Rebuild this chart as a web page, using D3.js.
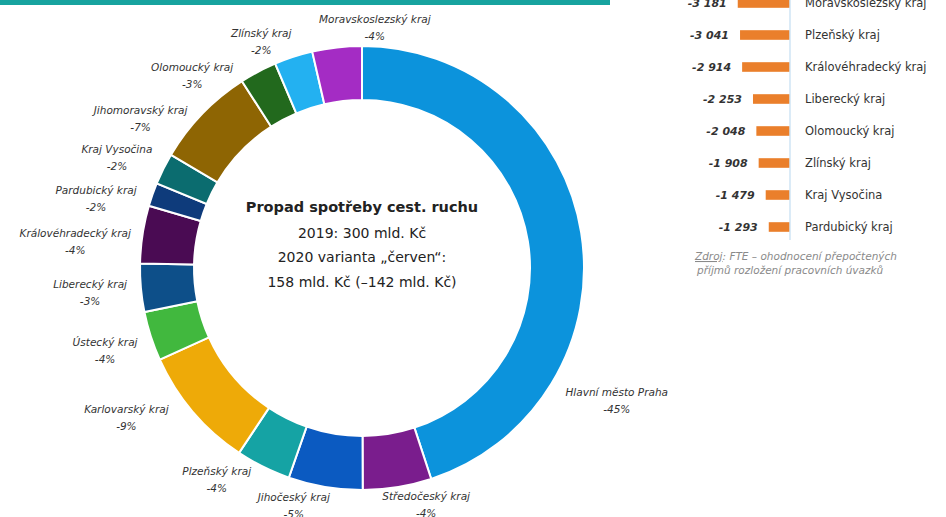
<!DOCTYPE html>
<html>
<head>
<meta charset="utf-8">
<script src="https://cdnjs.cloudflare.com/ajax/libs/d3/7.8.5/d3.min.js"></script>
<style>
  body { margin: 0; background: #fff; }
  text { font-family: "DejaVu Sans", sans-serif; }
</style>
</head>
<body>
<div id="chart"></div>
<script>
// donut data: share of the drop per region (%)
var regions = ["Hlavní město Praha", "Středočeský kraj", "Jihočeský kraj", "Plzeňský kraj",
    "Karlovarský kraj", "Ústecký kraj", "Liberecký kraj", "Královéhradecký kraj",
    "Pardubický kraj", "Kraj Vysočina", "Jihomoravský kraj", "Olomoucký kraj",
    "Zlínský kraj", "Moravskoslezský kraj"];
var shares = [45.0, 5.0, 5.4, 4.0, 8.9, 3.6, 3.5, 4.2, 1.7, 2.3, 7.4, 2.7, 2.8, 3.6];
var shareLabels = ["-45%", "-4%", "-5%", "-4%", "-9%", "-4%", "-3%", "-4%", "-2%", "-2%", "-7%", "-3%", "-2%", "-4%"];
var colors = ["#0c93dc", "#7a1d8d", "#0b5ac1", "#15a3a4", "#eeaa08", "#41b83e", "#0d4f89",
    "#4a0b53", "#0e3b7b", "#0b6c6f", "#8e6503", "#22691d", "#23b1f1", "#a42cc4"];

// bar panel on the right (partially visible)
var barNames = ["Moravskoslezský kraj", "Plzeňský kraj", "Královéhradecký kraj", "Liberecký kraj",
    "Olomoucký kraj", "Zlínský kraj", "Kraj Vysočina", "Pardubický kraj"];
var barValues = [-3181, -3041, -2914, -2253, -2048, -1908, -1479, -1293];

// label placement: [angle shift from slice middle (deg), radius]
var labelPos = [[36.5, 287], [-6, 245], [6.5, 247], [8, 257], [8, 279], [0, 270], [0, 273],
    [-3.5, 288], [-4.6, 275], [-2.2, 269], [-10, 267], [-13.5, 257], [-6, 248], [9.5, 241]];

var W = 946, H = 517;
var svg = d3.select("#chart").append("svg")
    .attr("width", W).attr("height", H);

// teal header stripe
svg.append("rect")
    .attr("x", 0).attr("y", 0)
    .attr("width", 610).attr("height", 5)
    .attr("fill", "#17a39f");

var cx = 362, cy = 268;
var g = svg.append("g").attr("transform", "translate(" + cx + "," + cy + ")");

var pie = d3.pie().sort(null).value(function (d) { return d; });
var arcs = pie(shares);
var arc = d3.arc().innerRadius(168).outerRadius(222);

g.selectAll("path.slice")
    .data(arcs)
    .enter().append("path")
    .attr("class", "slice")
    .attr("d", arc)
    .attr("fill", function (d, i) { return colors[i]; })
    .attr("stroke", "#fff")
    .attr("stroke-width", 2);

// slice labels
var lab = g.selectAll("g.lab")
    .data(arcs)
    .enter().append("g")
    .attr("class", "lab")
    .attr("transform", function (d, i) {
        var a = (d.startAngle + d.endAngle) / 2 + labelPos[i][0] * Math.PI / 180;
        var r = labelPos[i][1];
        return "translate(" + (r * Math.sin(a)) + "," + (-r * Math.cos(a)) + ")";
    });

lab.append("text")
    .attr("text-anchor", "middle")
    .attr("y", -4.5)
    .style("font-size", "10.5px")
    .style("font-style", "italic")
    .attr("fill", "#333")
    .text(function (d, i) { return regions[i]; });

lab.append("text")
    .attr("text-anchor", "middle")
    .attr("y", 12.5)
    .style("font-size", "10.5px")
    .style("font-style", "italic")
    .attr("fill", "#333")
    .text(function (d, i) { return shareLabels[i]; });

// center text
var center = [
    { t: "Propad spotřeby cest. ruchu", y: -61, size: 14.5, w: 700 },
    { t: "2019: 300 mld. Kč", y: -35, size: 14, w: 400 },
    { t: "2020 varianta „červen“:", y: -11, size: 14, w: 400 },
    { t: "158 mld. Kč (–142 mld. Kč)", y: 14, size: 14, w: 400 }
];
g.selectAll("text.center")
    .data(center)
    .enter().append("text")
    .attr("class", "center")
    .attr("text-anchor", "middle")
    .attr("y", function (d) { return d.y + 5; })
    .style("font-size", function (d) { return d.size + "px"; })
    .style("font-weight", function (d) { return d.w; })
    .attr("fill", "#222")
    .text(function (d) { return d.t; });

// right bar panel
var axisX = 790;
var x = d3.scaleLinear().domain([0, 3500]).range([0, 57.5]);
var y = d3.scaleBand().domain(barNames).range([-13, 243]).paddingInner(0.7).paddingOuter(0.35);

var panel = svg.append("g");
panel.selectAll("rect.bar")
    .data(barValues)
    .enter().append("rect")
    .attr("class", "bar")
    .attr("x", function (d) { return axisX - x(-d); })
    .attr("y", function (d, i) { return y(barNames[i]); })
    .attr("width", function (d) { return x(-d); })
    .attr("height", y.bandwidth())
    .attr("fill", "#ea7f2b");

panel.append("line")
    .attr("x1", axisX).attr("x2", axisX)
    .attr("y1", 0).attr("y2", 240)
    .attr("stroke", "#cfe5f4")
    .attr("stroke-width", 1.5);

panel.selectAll("text.val")
    .data(barValues)
    .enter().append("text")
    .attr("class", "val")
    .attr("text-anchor", "end")
    .attr("x", function (d) { return axisX - x(-d) - 11; })
    .attr("y", function (d, i) { return y(barNames[i]) + y.bandwidth() / 2 + 4; })
    .style("font-size", "11px")
    .style("font-weight", 700)
    .style("font-style", "italic")
    .attr("fill", "#333")
    .text(function (d) { return "-" + d3.format(",")(-d).replace(",", " "); });

panel.selectAll("text.name")
    .data(barNames)
    .enter().append("text")
    .attr("class", "name")
    .attr("x", axisX + 15)
    .attr("y", function (d) { return y(d) + y.bandwidth() / 2 + 4; })
    .style("font-size", "11.5px")
    .attr("fill", "#333")
    .text(function (d) { return d; });

// source note
var note = panel.append("text")
    .attr("x", 695).attr("y", 260)
    .style("font-size", "10.5px")
    .style("font-style", "italic")
    .attr("fill", "#8a8a8a");
note.append("tspan").attr("text-decoration", "underline").text("Zdroj");
note.append("tspan").text(": FTE – ohodnocení přepočtených");
panel.append("text")
    .attr("x", 697).attr("y", 274)
    .style("font-size", "10.5px")
    .style("font-style", "italic")
    .attr("fill", "#8a8a8a")
    .text("příjmů rozložení pracovních úvazků");
</script>
</body>
</html>
